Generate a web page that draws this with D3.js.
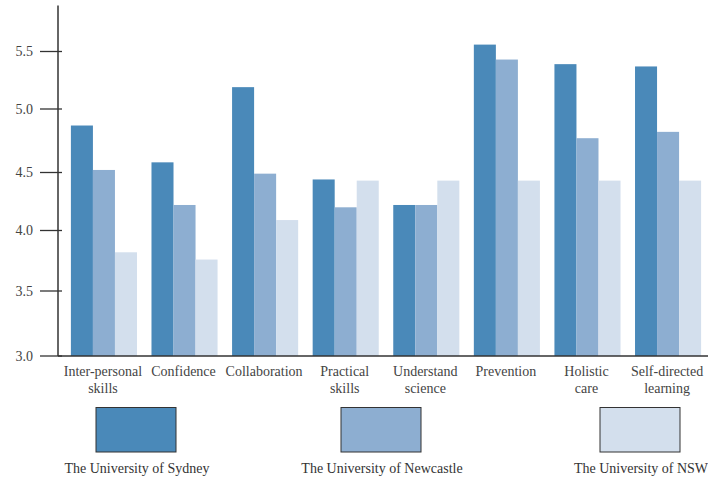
<!DOCTYPE html>
<html>
<head>
<meta charset="utf-8">
<script src="https://cdn.jsdelivr.net/npm/d3@7"></script>
<style>
  body { margin: 0; background: #fff; }
  svg text { font-family: 'Liberation Serif', 'DejaVu Serif', serif; }
</style>
</head>
<body>
<div id="chart"></div>
<script>
// Data
var categories = ["Inter-personal\nskills", "Confidence", "Collaboration", "Practical\nskills",
  "Understand\nscience", "Prevention", "Holistic\ncare", "Self-directed\nlearning"];
var seriesNames = ["The University of Sydney", "The University of Newcastle", "The University of NSW"];
var sydney    = [4.87, 4.58, 5.19, 4.44, 4.22, 5.56, 5.39, 5.37];
var newcastle = [4.52, 4.22, 4.49, 4.20, 4.22, 5.43, 4.77, 4.82];
var nsw       = [3.82, 3.76, 4.09, 4.43, 4.43, 4.43, 4.43, 4.43];
var yTicks = [3.0, 3.5, 4.0, 4.5, 5.0, 5.5];

var colors = ["#4a89b9", "#8daed1", "#d3dfed"];
var series = [sydney, newcastle, nsw];
var font = "'Liberation Serif', 'DejaVu Serif', serif";

var width = 708, height = 477;

var svg = d3.select("#chart").append("svg")
  .attr("width", width)
  .attr("height", height)
  .attr("font-family", font);

// The reference's tick spacing is slightly uneven, so map each tick to where it sits
var yScale = d3.scaleLinear()
  .domain([3.0, 3.5, 4.0, 4.5, 5.0, 5.5, 5.9])
  .range([356, 291, 230.5, 172.5, 109, 51.5, 5.5]);

var xScale = d3.scaleBand()
  .domain(categories)
  .range([58, 714])
  .paddingInner(0.18)
  .paddingOuter(0.16);

var xInner = d3.scaleBand()
  .domain(d3.range(series.length))
  .range([0, xScale.bandwidth()]);

// Bars
series.forEach(function(vals, si) {
  svg.append("g").selectAll("rect")
    .data(vals)
    .enter().append("rect")
    .attr("x", function(d, i) { return xScale(categories[i]) + xInner(si); })
    .attr("y", function(d) { return yScale(d); })
    .attr("width", xInner.bandwidth())
    .attr("height", function(d) { return yScale(3.0) - yScale(d); })
    .attr("fill", colors[si]);
});

// Y axis
var yAxis = svg.append("g");
yAxis.append("line")
  .attr("x1", 58).attr("x2", 58)
  .attr("y1", yScale(5.9)).attr("y2", yScale(3.0))
  .attr("stroke", "#333").attr("stroke-width", 1.5);
yAxis.selectAll(".tick")
  .data(yTicks)
  .enter().append("line")
  .attr("x1", 40).attr("x2", 62)
  .attr("y1", function(d) { return yScale(d); })
  .attr("y2", function(d) { return yScale(d); })
  .attr("stroke", "#333").attr("stroke-width", 1.3);
yAxis.selectAll(".tlabel")
  .data(yTicks)
  .enter().append("text")
  .attr("x", 33)
  .attr("y", function(d) { return yScale(d) + 4.5; })
  .attr("text-anchor", "end")
  .attr("font-family", font)
  .attr("font-size", 14)
  .attr("fill", "#444")
  .text(function(d) { return d.toFixed(1); });

// X axis
svg.append("line")
  .attr("x1", 58).attr("x2", width)
  .attr("y1", yScale(3.0)).attr("y2", yScale(3.0))
  .attr("stroke", "#333").attr("stroke-width", 1.5);

var xLabels = svg.append("g").selectAll("text")
  .data(categories)
  .enter().append("text")
  .attr("text-anchor", "middle")
  .attr("font-family", font)
  .attr("font-size", 14)
  .attr("fill", "#444")
  .attr("transform", function(d) {
    return "translate(" + (xScale(d) + xScale.bandwidth() / 2 - 1) + ",376)";
  });
xLabels.each(function(d) {
  var t = d3.select(this);
  d.split("\n").forEach(function(line, li) {
    t.append("tspan").attr("x", 0).attr("y", li * 16.5).text(line);
  });
});

// Legend
var legendX = [136, 381, 640];
var legend = svg.append("g").selectAll("g")
  .data(seriesNames)
  .enter().append("g")
  .attr("transform", function(d, i) { return "translate(" + legendX[i] + ",0)"; });
legend.append("rect")
  .attr("x", -40).attr("y", 407.5)
  .attr("width", 80).attr("height", 44.5)
  .attr("fill", function(d, i) { return colors[i]; })
  .attr("stroke", "#333").attr("stroke-width", 1);
legend.append("text")
  .attr("x", 1).attr("y", 473)
  .attr("text-anchor", "middle")
  .attr("font-family", font)
  .attr("font-size", 14)
  .attr("fill", "#333")
  .text(function(d) { return d; });
</script>
</body>
</html>
